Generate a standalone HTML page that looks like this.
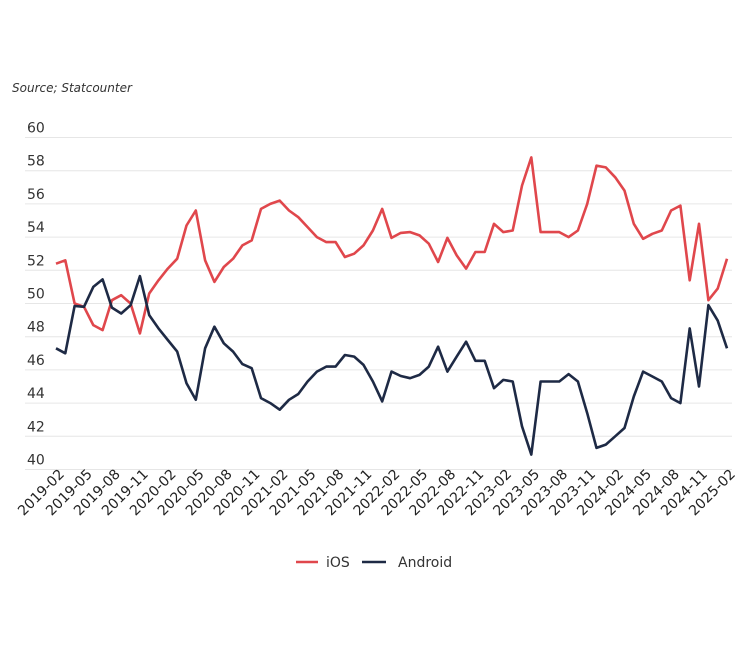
<!DOCTYPE html>
<html><head><meta charset="utf-8"><style>
body{margin:0;background:#fff;}
svg{display:block;font-family:"DejaVu Sans","Liberation Sans",sans-serif;}
</style></head><body>
<svg id="c" width="750" height="661" viewBox="0 0 750 661"></svg>
<script>
const ios=[52.4,52.6,50.0,49.8,48.7,48.4,50.2,50.5,50.0,48.2,50.6,51.4,52.1,52.7,54.7,55.6,52.6,51.3,52.2,52.7,53.5,53.8,55.7,56.0,56.2,55.6,55.2,54.6,54.0,53.7,53.7,52.8,53.0,53.5,54.4,55.7,
56.05,53.95,54.25,54.3,54.1,53.6,52.5,53.95,52.9,52.1,53.1,53.1,54.8,54.3,54.4,57.1,58.8,54.3,54.3,54.3,54.0,54.4,56.0,58.3,58.2,57.6,56.8,54.8,53.9,54.2,54.4,55.6,55.9,51.4,54.8,50.2,50.9,52.7];
const and=[47.3,47.0,49.85,49.8,51.0,51.45,49.75,49.4,49.9,51.65,49.3,48.5,47.8,47.1,45.2,44.2,47.3,48.6,47.6,47.1,46.35,46.1,44.3,44.0,43.6,44.2,44.55,45.3,45.9,46.2,46.2,46.9,46.8,46.3,45.3,44.1,
43.8,45.9,45.63,45.5,45.7,46.2,47.4,45.9,46.8,47.7,46.55,46.55,44.9,45.4,45.3,42.6,40.9,45.3,45.3,45.3,45.75,45.3,43.4,41.3,41.5,42.0,42.5,44.4,45.9,45.6,45.3,44.3,44.0,48.5,45.0,49.9,48.97,47.3];
ios.splice(36,1);
and.splice(36,1);
const X=i=>56+i*(671/72), Y=v=>137.5+(60-v)*16.6;
let s='<text x="12" y="92" font-size="12" font-style="italic" fill="#333">Source; Statcounter</text>';
for(let v=40;v<=60;v+=2){const y=Y(v);s+=`<line x1="25" x2="732" y1="${y}" y2="${y}" stroke="#e6e6e6" stroke-width="1"/>`;
s+=`<text x="27" y="${y-5}" font-size="14" fill="#333">${v}</text>`;}
const p=a=>a.map((v,i)=>`${X(i).toFixed(1)},${Y(v).toFixed(1)}`).join(' ');
s+=`<polyline points="${p(ios)}" fill="none" stroke="#e0474c" stroke-width="2.6" stroke-linejoin="round"/>`;
s+=`<polyline points="${p(and)}" fill="none" stroke="#1e2a45" stroke-width="2.6" stroke-linejoin="round"/>`;
for(let i=0;i<73;i+=3){const yr=2019+Math.floor((i+1)/12),m=((i+1)%12)+1;
const lab=yr+'-'+String(m).padStart(2,'0');const x=X(i)+9,y=475;
s+=`<text transform="translate(${x},${y}) rotate(-45)" text-anchor="end" font-size="14" fill="#222">${lab}</text>`;}
s+=`<line x1="296" x2="318" y1="562" y2="562" stroke="#e0474c" stroke-width="2.6"/><text x="326" y="567" font-size="14" fill="#333">iOS</text>`;
s+=`<line x1="362" x2="386" y1="562" y2="562" stroke="#1e2a45" stroke-width="2.6"/><text x="398" y="567" font-size="14" fill="#333">Android</text>`;
document.getElementById('c').innerHTML=s;
</script>
</body></html>
